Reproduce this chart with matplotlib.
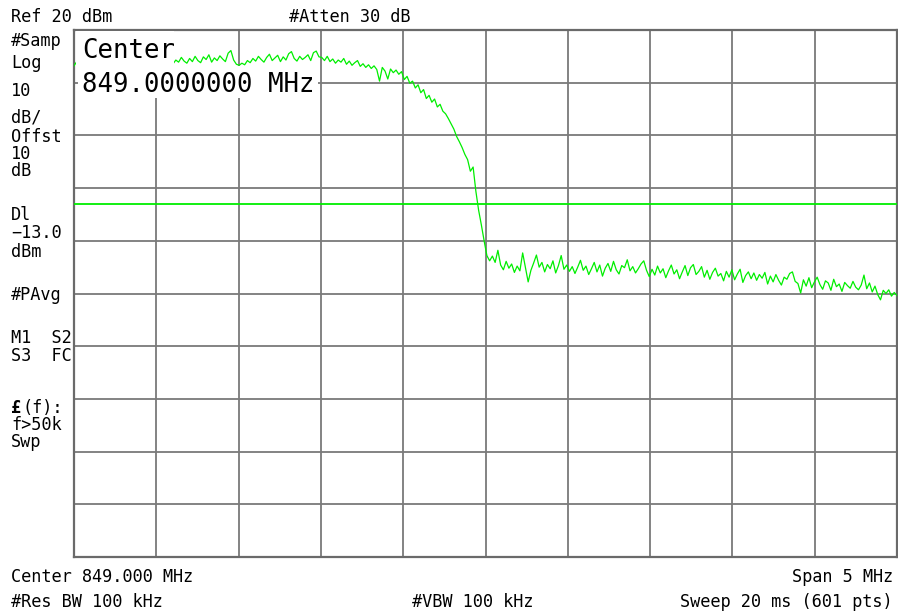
import matplotlib
matplotlib.use('Agg')
import numpy as np
import matplotlib.pyplot as plt
from matplotlib.patches import Rectangle

# Sweep settings
center_mhz = 849.0
span_mhz = 5.0
ref_dbm = 20.0
db_per_div = 10.0
display_line_dbm = -13.0

# Trace amplitude (dBm) across the sweep, left to right
trace_dbm = [
    # start of sweep (mostly behind the centre readout)
    13.2, 14.0, 13.4,
    14.6, 14.1, 15.0, 14.4, 13.9, 14.8, 14.2, 15.1, 14.5, 13.8, 14.7,
    14.3, 15.2, 14.0, 14.6, 14.9, 14.2, 14.5, 13.9, 14.8, 14.3, 14.6,
    14.0, 14.9, 14.4, 15.0, 14.2, 14.7, 13.9, 14.5, 15.1, 14.3, 14.8,
    # passband
    13.6, 14.3, 13.9, 14.8, 14.1, 13.7, 14.6, 14.0, 15.0, 14.2,
    13.8, 14.9, 14.4, 15.3, 13.9, 14.7, 14.2, 15.1, 14.5, 14.0,
    15.6, 16.1, 14.3, 13.5, 13.3, 13.7, 13.4, 14.2, 13.8, 14.6,
    14.1, 15.0, 14.4, 13.9, 14.8, 15.4, 14.2, 14.7, 15.2, 14.0,
    14.9, 14.3, 15.5, 15.9, 14.6, 14.1, 15.0, 14.4, 14.8, 15.3,
    14.2, 15.7, 16.0, 14.9,
    # upper band edge roll-off
    14.8, 14.2, 15.0, 14.0, 14.5, 13.7, 14.3, 13.9, 14.6, 13.5,
    14.1, 13.3, 13.8, 14.2, 13.1, 13.6, 12.9, 13.4, 12.7, 13.2,
    12.5, 10.3, 12.9, 12.2, 10.7, 12.6, 11.9, 12.4, 11.6, 12.1,
    # skirt
    10.6, 11.2, 9.9, 10.3, 9.0, 9.6, 8.1, 8.7, 7.0, 7.6,
    6.3, 6.9, 5.4, 5.9, 4.6, 4.1, 3.2, 2.2, 1.2, -0.2,
    -1.2, -2.3, -3.6, -4.6, -6.8, -6.0, -10.6, -14.2, -17.0, -20.0,
    -22.8,
    # out-of-band floor
    -23.8, -22.9, -24.1, -21.8,
    -24.6, -25.5, -23.9, -25.2, -24.4, -26.0, -24.8, -25.7, -22.3, -25.1,
    -27.8, -25.6, -24.2, -22.7, -25.0, -24.1, -25.9, -24.5, -25.3, -23.8,
    -26.1, -24.7, -22.8, -25.4, -24.6, -25.8,
    -24.9, -26.2, -25.0, -23.7, -25.6, -24.8, -26.4, -25.3, -24.1, -25.9,
    -24.6, -26.7, -25.2, -24.3, -25.8, -23.9, -25.5, -26.3, -24.7, -25.1,
    -23.6, -25.7, -24.9, -26.1, -25.3, -24.4, -23.8, -25.6, -26.8,
    -25.4, -26.5, -24.8, -26.1, -25.3, -27.0, -25.7, -24.6, -26.3, -25.5,
    -27.2, -25.9, -24.7, -26.6, -25.1, -24.5, -26.4, -25.8, -24.9, -26.9,
    -25.6, -27.3, -26.0, -25.2, -26.7,
    -26.2, -27.6, -25.8, -26.9, -25.5, -27.4, -26.3, -25.4, -27.9, -26.6,
    -25.9, -27.2, -26.1, -27.5, -26.4,
    -27.1, -26.0, -28.2, -26.7, -27.8, -26.4, -27.5, -28.4, -26.9, -27.3,
    -26.2, -25.9, -27.7, -28.1, -29.9,
    -27.4, -28.6, -27.0, -28.9, -27.8, -26.9, -28.3, -29.2, -27.6, -28.0,
    -29.4, -27.3, -28.7, -28.2, -29.6, -27.9, -28.5, -29.0, -27.7, -28.8,
    -29.3,
    -28.4, -26.5, -29.1, -28.0, -29.7, -28.6, -30.2, -31.2, -29.4, -30.0,
    -29.3, -30.5, -29.8, -30.4,
]

# Annotation text around the graticule
top_labels = [('Ref 20 dBm', 11, 22), ('#Atten 30 dB', 289, 22)]
side_labels = [
    ('#Samp', 46), ('Log', 68), ('10', 96), ('dB/', 122), ('Offst', 142),
    ('10', 159), ('dB', 176), ('Dl', 220), ('\u221213.0', 238), ('dBm', 257),
    ('#PAvg', 300), ('M1  S2', 343), ('S3  FC', 361), ('(f):', 413),
    ('f>50k', 430), ('Swp', 447),
]
bottom_left = ['Center 849.000 MHz', '#Res BW 100 kHz']
bottom_mid = '#VBW 100 kHz'
bottom_right = ['Span 5 MHz', 'Sweep 20 ms (601 pts)']

W, H = 898, 615
GREEN = '#00ee00'
MONO = 'DejaVu Sans Mono'

fig = plt.figure(figsize=(W / 100.0, H / 100.0), dpi=100)
fig.patch.set_facecolor('white')


def px(x, y):
    return x / float(W), 1 - y / float(H)


def label(x, y, s, size=12.2, **kw):
    fx, fy = px(x, y)
    return fig.text(fx, fy, s, fontsize=size, family=MONO, color='black',
                    va='baseline', **kw)


ax = fig.add_axes([74.0 / W, 1 - 557.0 / H, 823.0 / W, 527.0 / H])
f_lo = center_mhz - span_mhz / 2
f_hi = center_mhz + span_mhz / 2
bottom_dbm = ref_dbm - 10 * db_per_div
ax.set_xlim(f_lo, f_hi)
ax.set_ylim(bottom_dbm, ref_dbm)
ax.set_xticks(np.linspace(f_lo, f_hi, 11))
ax.set_yticks(np.linspace(bottom_dbm, ref_dbm, 11))
ax.tick_params(length=0, labelbottom=False, labelleft=False)
ax.grid(True, color='#7a7a7a', linewidth=1.3)
for sp in ax.spines.values():
    sp.set_color('#6a6a6a')
    sp.set_linewidth(1.6)

freq = np.linspace(f_lo, f_hi, len(trace_dbm))
ax.plot(freq, trace_dbm, color=GREEN, linewidth=0.9, zorder=3)
ax.axhline(display_line_dbm, color=GREEN, linewidth=1.3, zorder=3)

# white boxes behind the big centre frequency readout
for (x0, y0, w, h) in [(76, 31, 98, 36), (78, 66, 240, 32)]:
    fx, fy = px(x0, y0 + h)
    fig.patches.append(Rectangle((fx, fy), w / float(W), h / float(H),
                                 transform=fig.transFigure, facecolor='white',
                                 edgecolor='none', zorder=5))
t1 = label(82, 58, 'Center', size=18.5)
t2 = label(82, 92, '849.0000000 MHz', size=18.5)
t1.set_zorder(6)
t2.set_zorder(6)

for s, x, y in top_labels:
    label(x, y, s)
for s, y in side_labels:
    if s == '(f):':
        label(11, y, '\u00a3', weight='bold')
        label(22, y, s)
    else:
        label(11, y, s)

label(11, 582, bottom_left[0])
label(11, 607, bottom_left[1])
label(473, 607, bottom_mid, ha='center')
label(893, 582, bottom_right[0], ha='right')
label(893, 607, bottom_right[1], ha='right')

fig.savefig('out.png', dpi=100)
